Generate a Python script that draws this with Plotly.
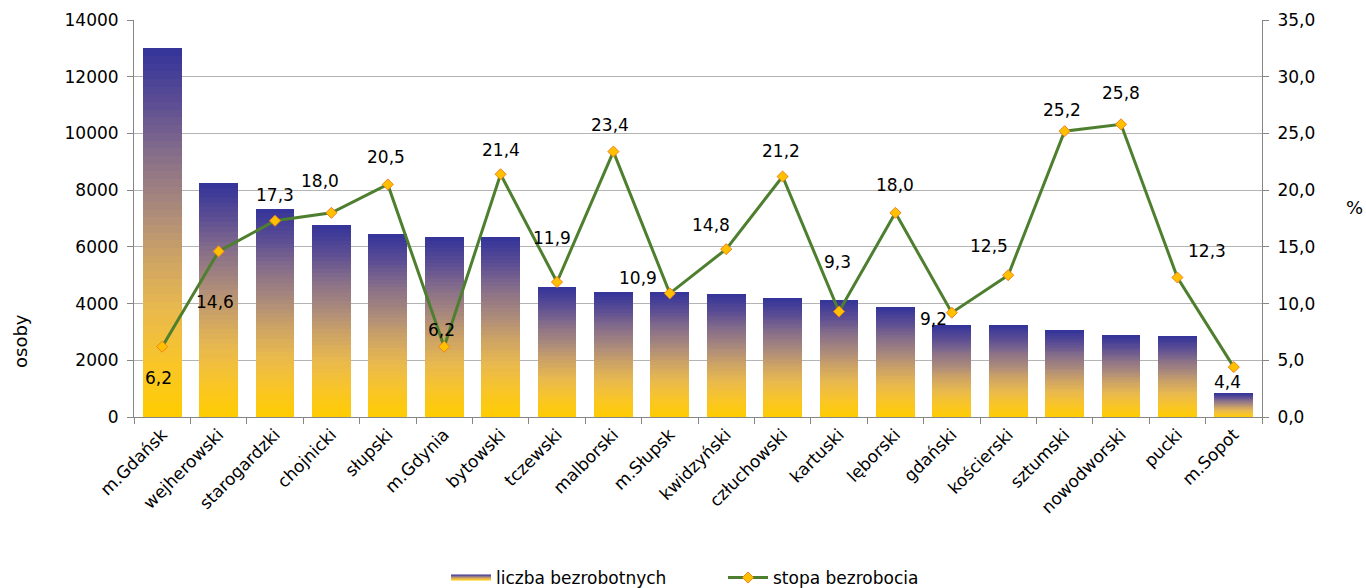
import plotly.graph_objects as go

# ---- data ----
categories = ["m.Gdańsk", "wejherowski", "starogardzki", "chojnicki", "słupski",
              "m.Gdynia", "bytowski", "tczewski", "malborski", "m.Słupsk",
              "kwidzyński", "człuchowski", "kartuski", "lęborski", "gdański",
              "kościerski", "sztumski", "nowodworski", "pucki", "m.Sopot"]
unemployed = [13000, 8250, 7330, 6770, 6450, 6340, 6340, 4580, 4400, 4400,
              4330, 4190, 4120, 3870, 3240, 3240, 3060, 2880, 2850, 830]
rate = [6.2, 14.6, 17.3, 18.0, 20.5, 6.2, 21.4, 11.9, 23.4, 10.9,
        14.8, 21.2, 9.3, 18.0, 9.2, 12.5, 25.2, 25.8, 12.3, 4.4]

bar_name = "liczba bezrobotnych"
line_name = "stopa bezrobocia"
left_title = "osoby"
right_title = "%"

# ---- styles ----
FONT = "DejaVu Sans"
FS = 17
label_offsets = [(-4, 31), (-4, 51), (0, -26), (-11, -32), (-2, -27), (-3, -17),
                 (0, -24), (-5, -44), (-3, -27), (-32, -15), (-15, -24), (-2, -26),
                 (-2, -50), (0, -28), (-18, 6), (-19, -29), (-3, -21), (0, -31),
                 (30, -26), (-6, 15)]

stops = [(0.0, (0xFF, 0xCC, 0x00)), (0.15, (0xF8, 0xC5, 0x2A)), (0.3, (0xE8, 0xB8, 0x50)),
         (0.45, (0xC9, 0xA0, 0x68)), (0.55, (0xAE, 0x8C, 0x7A)), (0.7, (0x8A, 0x71, 0x88)),
         (0.85, (0x5C, 0x4E, 0x94)), (1.0, (0x33, 0x33, 0x99))]


def grad(t):
    for (t0, c0), (t1, c1) in zip(stops[:-1], stops[1:]):
        if t0 <= t <= t1:
            f = (t - t0) / (t1 - t0)
            return "rgb(%d,%d,%d)" % tuple(round(a + (b - a) * f) for a, b in zip(c0, c1))
    return "rgb(51,51,153)"


N = 48
fig = go.Figure()
for i in range(N):
    t = (i + 0.5) / N
    fig.add_trace(go.Bar(
        x=categories, y=[v / N for v in unemployed],
        marker=dict(color=grad(t), line=dict(width=0)),
        name=bar_name, legendgroup="bars", showlegend=False,
        hoverinfo="skip", yaxis="y",
    ))

# legend entry for the bars (gradient swatch)
fig.add_trace(go.Scatter(
    x=[None], y=[None], name=bar_name, legendgroup="bars", mode="none",
    fill="toself",
    fillgradient=dict(type="vertical",
                      colorscale=[[s, "rgb(%d,%d,%d)" % c] for s, c in stops]),
    showlegend=True,
))

fig.add_trace(go.Scatter(
    x=categories, y=rate, name=line_name, yaxis="y2", mode="lines+markers",
    line=dict(color="#4E7F2F", width=3),
    marker=dict(symbol="diamond", size=8.5, color="#FFC000",
                line=dict(color="#F08020", width=1)),
))

annotations = []
for c, v, (dx, dy) in zip(categories, rate, label_offsets):
    annotations.append(dict(
        x=c, y=v, xref="x", yref="y2", text=f"{v:.1f}".replace(".", ","),
        showarrow=False, xshift=dx, yshift=-dy,
        font=dict(family=FONT, size=FS, color="black"),
    ))
annotations.append(dict(xref="paper", yref="paper",
                        x=(20 - 134) / (1366 - 134 - 104),
                        y=(417 - 341) / (417 - 20),
                        xanchor="center", yanchor="middle",
                        text=left_title, showarrow=False, textangle=-90,
                        font=dict(family=FONT, size=18, color="black")))
annotations.append(dict(xref="paper", yref="paper",
                        x=(1354 - 134) / (1366 - 134 - 104),
                        y=(417 - 208) / (417 - 20),
                        xanchor="center", yanchor="middle",
                        text=right_title, showarrow=False,
                        font=dict(family=FONT, size=18, color="black")))

fig.update_layout(
    width=1366, height=588,
    margin=dict(l=134, r=104, t=20, b=171),
    paper_bgcolor="white", plot_bgcolor="white",
    barmode="stack", bargap=0.31,
    separators=", ",
    font=dict(family=FONT, size=FS, color="black"),
    annotations=annotations,
    xaxis=dict(
        type="category", range=[-0.5, len(categories) - 0.5],
        tickangle=-45, showline=True, linecolor="#868686", linewidth=1,
        ticks="outside", tickson="boundaries", ticklen=6, tickcolor="#868686",
        showgrid=False, tickfont=dict(family=FONT, size=FS), automargin=False,
    ),
    yaxis=dict(
        range=[0, 14000], dtick=2000, tickformat="d",
        showline=True, linecolor="#868686", linewidth=1,
        ticks="outside", ticklen=6, tickcolor="#868686", ticklabelstandoff=5,
        showgrid=True, gridcolor="#B4B4B4", gridwidth=1, zeroline=False,
        tickfont=dict(family=FONT, size=FS), automargin=False,
    ),
    yaxis2=dict(
        range=[0, 35], dtick=5, tickformat=".1f", overlaying="y", side="right",
        showline=True, linecolor="#868686", linewidth=1,
        ticks="outside", ticklen=6, tickcolor="#868686", ticklabelstandoff=5,
        showgrid=False, zeroline=False,
        tickfont=dict(family=FONT, size=FS), automargin=False,
    ),
    legend=dict(
        orientation="h", xref="container", yref="container",
        x=446 / 1366, xanchor="left", y=(588 - 578) / 588, yanchor="middle",
        entrywidth=222, entrywidthmode="pixels",
        font=dict(family=FONT, size=FS),
        traceorder="normal", itemwidth=40,
    ),
    hovermode=False,
)

fig.write_html("out.html", post_script="document.body.style.margin='0';",
               config={"displayModeBar": False})
